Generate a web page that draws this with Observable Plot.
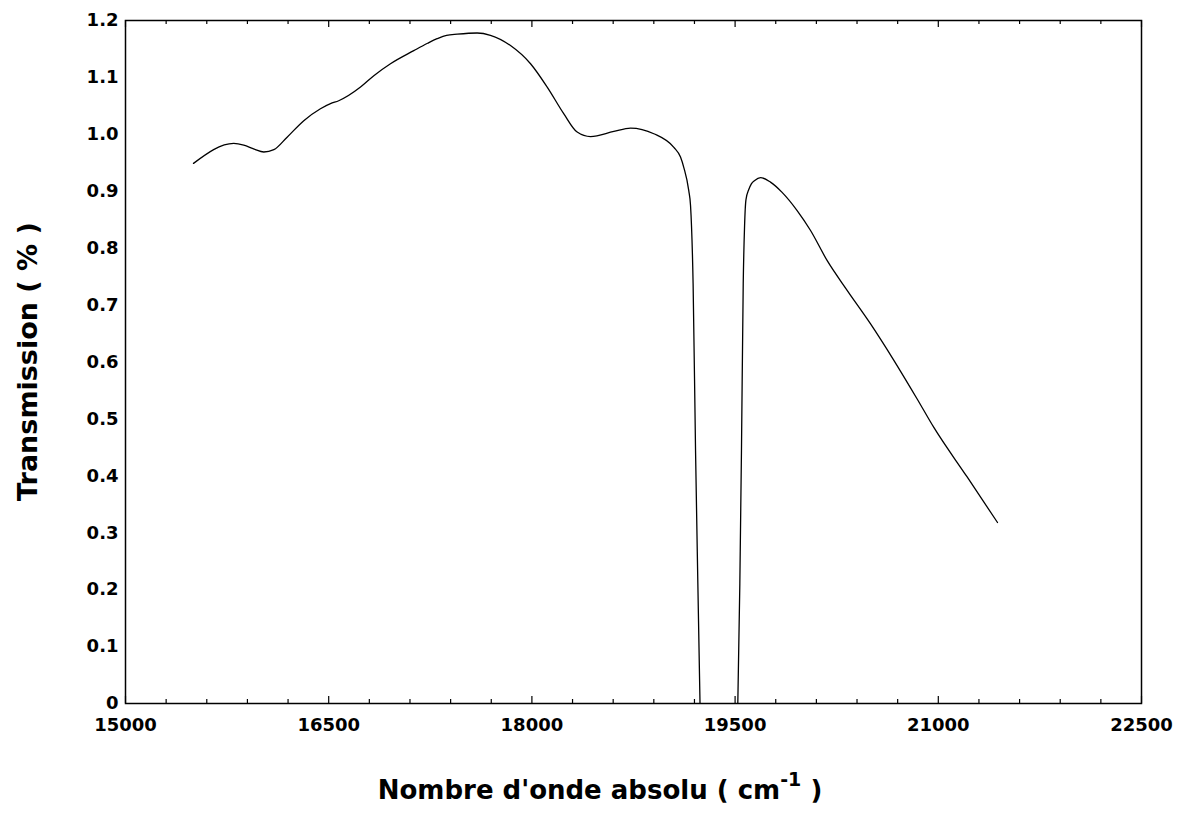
<!DOCTYPE html>
<html><head><meta charset="utf-8">
<script src="https://cdn.jsdelivr.net/npm/d3@7"></script>
<script src="https://cdn.jsdelivr.net/npm/@observablehq/plot@0.6"></script>
<style>body{margin:0;background:#fff;}</style>
</head><body><div id="chart"></div>
<script>
// Wavenumber (cm-1) and transmission; null marks the gap where the curve leaves the plot below 0
const wavenumber = [15502, 15799, 15873, 15950, 16021, 16095, 16193, 16316, 16439, 16513, 16574, 16735, 16833, 16956, 17128, 17230, 17300, 17370, 17449, 17596, 17694, 17842, 17990, 18113, 18236, 18334, 18433, 18605, 18728, 18900, 19048, 19097, 19121, 19158, 19171, 19190, 19208, 19225, 19241, 19380, 19520, 19535, 19547, 19560, 19570, 19580, 19601, 19620, 19645, 19688, 19761, 19847, 19958, 20057, 20180, 20327, 20500, 20672, 20844, 20967, 21213, 21437];
const transmission = [0.949, 0.984, 0.981, 0.974, 0.969, 0.973, 0.995, 1.024, 1.045, 1.054, 1.059, 1.083, 1.103, 1.124, 1.147, 1.160, 1.168, 1.174, 1.176, 1.178, 1.174, 1.156, 1.124, 1.083, 1.036, 1.004, 0.996, 1.005, 1.011, 1.001, 0.977, 0.960, 0.942, 0.901, 0.875, 0.738, 0.444, 0.211, 0, null, 0, 0.211, 0.444, 0.738, 0.840, 0.885, 0.903, 0.913, 0.919, 0.924, 0.916, 0.898, 0.866, 0.831, 0.778, 0.726, 0.667, 0.603, 0.535, 0.485, 0.398, 0.318];
const xTicks = [15000, 16500, 18000, 19500, 21000, 22500];
const xMinorTicks = [15300, 15600, 15900, 16200, 16800, 17100, 17400, 17700, 18300, 18600, 18900, 19200, 19800, 20100, 20400, 20700, 21300, 21600, 21900, 22200];
const yTicks = [0, 0.1, 0.2, 0.3, 0.4, 0.5, 0.6, 0.7, 0.8, 0.9, 1.0, 1.1, 1.2];
const xTitle = "Nombre d'onde absolu ( cm";
const xTitleSup = "-1";
const xTitleEnd = " )";
const yTitle = "Transmission ( % )";

const data = wavenumber.map((x, i) => ({x, y: transmission[i]}));

const W = 1177, H = 834;
const M = {top: 20, right: 36, bottom: 131, left: 125};
const FH = H - M.top - M.bottom;

const chart = Plot.plot({
  width: W, height: H,
  marginTop: M.top, marginRight: M.right, marginBottom: M.bottom, marginLeft: M.left,
  style: {fontFamily: "'DejaVu Sans', sans-serif", fontWeight: "bold", fontSize: "18px", color: "black", background: "white"},
  x: {domain: [15000, 22500]},
  y: {domain: [0, 1.2]},
  marks: [
    Plot.axisX({ticks: xTicks, tickSize: 0, tickPadding: 15, tickFormat: d => String(d), label: null, fontSize: 18}),
    Plot.axisY({ticks: yTicks, tickSize: 0, tickPadding: 7, tickFormat: d => d === 0 ? "0" : d.toFixed(1), label: null, fontSize: 18}),
    Plot.tickX(xMinorTicks, {x: d => d, insetTop: FH - 4, stroke: "black", strokeWidth: 1.2}),
    Plot.tickX(xMinorTicks, {x: d => d, insetBottom: FH - 4, stroke: "black", strokeWidth: 1.2}),
    Plot.tickX(xTicks, {x: d => d, insetTop: FH - 7, stroke: "black", strokeWidth: 1.2}),
    Plot.tickX(xTicks, {x: d => d, insetBottom: FH - 7, stroke: "black", strokeWidth: 1.2}),
    Plot.line(data, {x: "x", y: "y", stroke: "black", strokeWidth: 1.3, curve: "monotone-x", clip: true}),
    Plot.frame({stroke: "black", strokeWidth: 1.5})
  ]
});

const svg = d3.select(chart);
svg.append("text")
  .attr("transform", `translate(27,${M.top + FH / 2}) rotate(-90)`)
  .attr("text-anchor", "middle")
  .attr("dominant-baseline", "central")
  .attr("font-family", "'DejaVu Sans', sans-serif")
  .attr("font-weight", "bold")
  .attr("font-size", 27)
  .attr("fill", "black")
  .text(yTitle);

const xt = svg.append("text")
  .attr("x", 600).attr("y", 799)
  .attr("text-anchor", "middle")
  .attr("font-family", "'DejaVu Sans', sans-serif")
  .attr("font-weight", "bold")
  .attr("font-size", 26)
  .attr("fill", "black");
xt.append("tspan").text(xTitle);
xt.append("tspan").attr("dy", -13).attr("font-size", 19).text(xTitleSup);
xt.append("tspan").attr("dy", 13).text(xTitleEnd);

document.getElementById("chart").append(chart);
</script>
</body></html>
